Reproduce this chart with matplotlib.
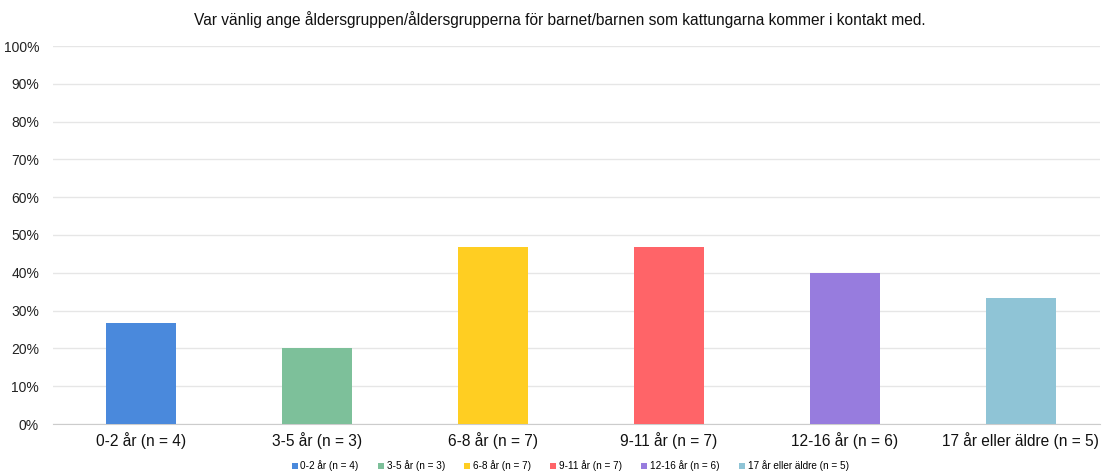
import matplotlib
matplotlib.use("Agg")
import matplotlib.pyplot as plt
from matplotlib.patches import Patch

plt.rcParams['font.family'] = ['Liberation Sans', 'DejaVu Sans']

categories = ["0-2 år (n = 4)", "3-5 år (n = 3)", "6-8 år (n = 7)",
              "9-11 år (n = 7)", "12-16 år (n = 6)", "17 år eller äldre (n = 5)"]
values = [26.7, 20.0, 46.7, 46.7, 40.0, 33.3]
colors = ["#4A89DC", "#7DC09A", "#FFCE22", "#FF6468", "#977CDE", "#8FC4D6"]
yticks = [0, 10, 20, 30, 40, 50, 60, 70, 80, 90, 100]
title = "Var vänlig ange åldersgruppen/åldersgrupperna för barnet/barnen som kattungarna kommer i kontakt med."

fig = plt.figure(figsize=(11.02, 4.75), dpi=100)
ax = fig.add_axes([53/1102, 1 - 424/475, (1100 - 53)/1102, (424 - 46)/475])

x = list(range(len(categories)))
ax.bar(x, values, width=0.4, color=colors, zorder=3)
ax.set_ylim(0, 100)
ax.set_xlim(-0.5, 5.45)
ax.set_yticks(yticks)
ax.set_yticklabels([f"{t}%" for t in yticks], fontsize=10, color="#222222")
ax.set_xticks(x)
ax.set_xticklabels(categories, fontsize=11.2, color="#111111")
ax.grid(axis='y', color="#e6e6e6", linewidth=1, zorder=0)
for s in ["top", "right", "left"]:
    ax.spines[s].set_visible(False)
ax.spines["bottom"].set_color("#cccccc")
ax.tick_params(axis='both', length=0)
ax.tick_params(axis='y', pad=10)
ax.tick_params(axis='x', pad=6)

fig.text(560/1102, 1 - 20/475, title, ha='center', va='center', fontsize=11.2, color="#111111")

handles = [Patch(facecolor=c, label=l) for c, l in zip(colors, categories)]
fig.legend(handles=handles, loc='center', bbox_to_anchor=(570/1102, 1 - 466/475), ncol=6,
           frameon=False, fontsize=7.2, handlelength=0.6, handleheight=0.6,
           handletextpad=0.3, columnspacing=1.9)

fig.savefig("out.png", dpi=100)
